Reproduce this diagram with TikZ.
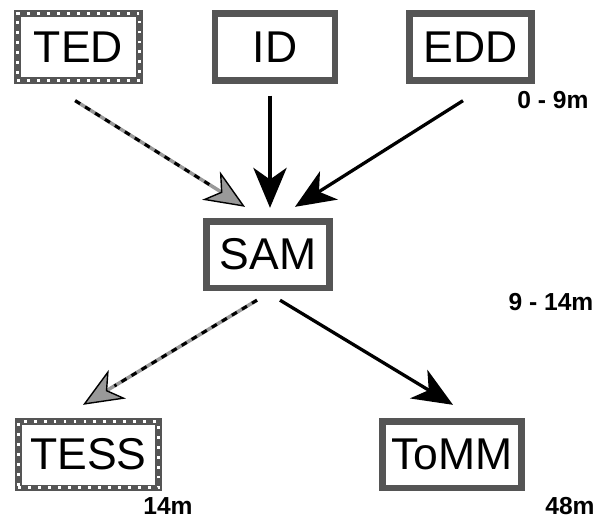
\documentclass[tikz,border=0pt]{standalone}
\usepackage{fontspec}
\setmainfont{Liberation Sans}
\usepackage{tikz}
\usetikzlibrary{arrows.meta}
\definecolor{boxgray}{HTML}{555555}
\definecolor{arrgray}{HTML}{999999}

\begin{document}
\begin{tikzpicture}[x=0.03cm, y=-0.03cm,
    boxed/.style={draw=boxgray, line width=0.2cm, fill=white, inner sep=0pt,
                  minimum height=2.0cm, font=\fontsize{38}{44}\selectfont},
    dotbox/.style={boxed, postaction={draw=white, line width=2.4pt,
                  dash pattern=on 2.4pt off 6.1pt}},
    lbl/.style={font=\fontsize{21}{25}\selectfont\bfseries, inner sep=0pt},
    solidarr/.style={line width=2.8pt, black,
                  -{Stealth[length=1.2cm, width=1.0cm, inset=0.35cm]}},
    dasharr/.style={line width=3pt, arrgray,
                  -{Stealth[length=1.2cm, width=1.0cm, inset=0.35cm,
                    color=black, fill=arrgray, line width=1.2pt]},
                  postaction={draw=black, line width=2.6pt, -,
                    dash pattern=on 5pt off 5pt, shorten >=1.1cm}}]
  \useasboundingbox (0,0) rectangle (606,520);

  % upper row
  \node[dotbox, minimum width=3.67cm] (ted) at (78.5,47) {TED};
  \node[boxed, minimum width=3.6cm]   (id)  at (275,47)  {ID};
  \node[boxed, minimum width=3.67cm]  (edd) at (470.5,47) {EDD};
  % middle
  \node[boxed, minimum width=3.7cm]   (sam) at (268,254.5) {SAM};
  % lower row
  \node[dotbox, minimum width=4.2cm]  (tess) at (88.5,454.5) {TESS};
  \node[boxed, minimum width=4.18cm]  (tomm) at (452,454.5) {ToMM};

  % time labels
  \node[lbl] (t1) at (553,100) {0 - 9m};
  \node[lbl] (t2) at (551,302) {9 - 14m};
  \node[lbl] (t3) at (168,506) {14m};
  \node[lbl] (t4) at (570,506) {48m};

  \draw[dasharr]  ([shift={(-0.1cm,-0.51cm)}]ted.south)
               -- ([shift={(-0.69cm,0.33cm)}]sam.north);
  \draw[solidarr] ([shift={(-0.15cm,-0.36cm)}]id.south)
               -- ([shift={(0.06cm,0.3cm)}]sam.north);
  \draw[solidarr] ([shift={(-0.225cm,-0.51cm)}]edd.south)
               -- ([shift={(0.81cm,0.33cm)}]sam.north);
  \draw[dasharr]  ([shift={(-0.33cm,-0.27cm)}]sam.south)
               -- ([shift={(-0.165cm,0.39cm)}]tess.north);
  \draw[solidarr] ([shift={(0.36cm,-0.27cm)}]sam.south)
               -- ([shift={(0.03cm,0.39cm)}]tomm.north);
\end{tikzpicture}
\end{document}
